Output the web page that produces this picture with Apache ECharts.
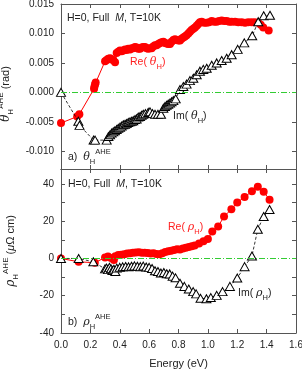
<!DOCTYPE html>
<html><head><meta charset="utf-8">
<script src="https://cdn.jsdelivr.net/npm/echarts@6/dist/echarts.min.js"></script>
<style>html,body{margin:0;padding:0;background:#fff}#c{width:302px;height:371px}</style>
</head><body><div id="c"></div>
<script>
// ---- Data ----
const xTicks = [0, 0.2, 0.4, 0.6, 0.8, 1.0, 1.2, 1.4, 1.6];
const thetaTickLabels = [-0.010, -0.005, 0.000, 0.005, 0.010, 0.015];
const rhoTicks = [-40, -30, -20, -10, 0, 10, 20, 30, 40];
const rhoTickLabels = [-40, -20, 0, 20, 40];

const reThetaE = [0.00,0.11,0.125,0.225,0.228,0.232,0.236,0.30,0.311,0.322,0.334,0.345,0.356,0.368,0.379,0.39,0.402,0.413,0.424,0.436,0.447,0.458,0.470,0.481,0.492,0.504,0.515,0.526,0.538,0.549,0.560,0.572,0.583,0.594,0.606,0.617,0.628,0.640,0.651,0.663,0.674,0.685,0.697,0.708,0.719,0.730,0.742,0.753,0.765,0.776,0.787,0.799,0.810,0.821,0.833,0.844,0.855,0.867,0.878,0.889,0.901,0.912,0.924,0.935,0.946,0.958,0.975,0.992,1.009,1.026,1.043,1.060,1.077,1.094,1.111,1.128,1.145,1.162,1.185,1.207,1.230,1.253,1.275,1.298,1.320,1.343,1.360,1.377,1.414];
const reThetaV = [-0.0052,-0.0041,-0.0037,0.0006,0.0010,0.0014,0.0017,0.0053,0.0055,0.0057,0.0058,0.0056,0.0055,0.0051,0.0067,0.0069,0.0071,0.0070,0.0071,0.0073,0.0072,0.0074,0.0073,0.0075,0.0075,0.0077,0.0076,0.0074,0.0074,0.0076,0.0077,0.0077,0.0075,0.0074,0.0075,0.0075,0.0078,0.0080,0.0080,0.0082,0.0084,0.0085,0.0086,0.0084,0.0083,0.0082,0.0082,0.0086,0.0089,0.0090,0.0089,0.0088,0.0088,0.0091,0.0093,0.0095,0.0097,0.0100,0.0103,0.0106,0.0108,0.0110,0.0113,0.0116,0.0119,0.0120,0.0118,0.0118,0.0119,0.0121,0.0120,0.0120,0.0121,0.0122,0.0121,0.0121,0.0120,0.0120,0.0120,0.0119,0.0119,0.0118,0.0119,0.0119,0.0119,0.0118,0.0115,0.0110,0.0105];

const imThetaE = [0.00,0.118,0.126,0.222,0.232,0.311,0.323,0.334,0.345,0.356,0.367,0.379,0.39,0.402,0.413,0.424,0.436,0.447,0.458,0.470,0.481,0.492,0.504,0.515,0.526,0.538,0.549,0.560,0.575,0.594,0.606,0.623,0.640,0.660,0.681,0.697,0.708,0.719,0.730,0.742,0.753,0.765,0.781,0.810,0.833,0.855,0.878,0.901,0.924,0.946,0.969,0.992,1.026,1.060,1.094,1.128,1.162,1.203,1.248,1.302,1.343,1.380,1.423];
const imThetaV = [0.0000,-0.0049,-0.0056,-0.0081,-0.0081,-0.0081,-0.0075,-0.0072,-0.0069,-0.0067,-0.0065,-0.0063,-0.0061,-0.0059,-0.0057,-0.0055,-0.0054,-0.0053,-0.0051,-0.0050,-0.0049,-0.0048,-0.0046,-0.0045,-0.0042,-0.0041,-0.0039,-0.0037,-0.0036,-0.0034,-0.0033,-0.0036,-0.0037,-0.0037,-0.0037,-0.0027,-0.0024,-0.0022,-0.0020,-0.0018,-0.0016,-0.0014,-0.0011,0.0005,0.0010,0.0014,0.0020,0.0024,0.0030,0.0036,0.0039,0.0041,0.0046,0.0050,0.0054,0.0058,0.0064,0.0073,0.0084,0.0096,0.0120,0.0130,0.0131];

const reRhoE = [0.00,0.12,0.23,0.30,0.32,0.34,0.36,0.37,0.39,0.41,0.43,0.45,0.47,0.49,0.51,0.53,0.55,0.57,0.59,0.61,0.63,0.65,0.67,0.69,0.71,0.73,0.75,0.77,0.79,0.81,0.83,0.85,0.87,0.89,0.91,0.94,0.97,1.00,1.03,1.07,1.11,1.16,1.20,1.25,1.30,1.34,1.38,1.42];
const reRhoV = [0,-1.8,-2.3,0.5,1.0,0.3,-0.8,1.2,1.8,2.0,2.3,2.6,2.8,3.0,3.2,3.3,3.0,3.1,2.9,2.6,2.8,2.4,2.2,2.8,3.4,3.8,4.2,4.5,5.0,4.8,5.4,5.8,6.2,6.6,7.0,8.0,9.2,10.5,14.4,17.2,22.5,26.4,30.0,33.0,36.0,38.5,35.8,31.5];

const imRhoE = [0.00,0.12,0.22,0.30,0.31,0.32,0.33,0.34,0.35,0.36,0.37,0.38,0.40,0.42,0.44,0.46,0.48,0.50,0.52,0.54,0.56,0.58,0.60,0.62,0.64,0.66,0.68,0.70,0.72,0.74,0.76,0.78,0.81,0.84,0.87,0.90,0.92,0.95,0.99,1.02,1.06,1.10,1.15,1.20,1.25,1.30,1.34,1.38,1.42];
const imRhoV = [0,0,-1.8,-5.6,-5.2,-6.0,-4.8,-5.5,-6.5,-5.8,-7.0,-5.2,-4.8,-4.5,-4.3,-4.5,-4.2,-4.0,-4.2,-4.4,-4.1,-4.6,-4.8,-5.4,-6.6,-7.0,-7.8,-7.5,-8.2,-8.3,-9.5,-10.4,-13.3,-15.0,-16.4,-17.8,-19.0,-21.4,-21.6,-21.0,-19.8,-17.8,-15.0,-10.5,-4.4,1.3,15.7,22.5,26.3];

// ---- Chart ----
const FONT = 'Liberation Sans, Arial, sans-serif';
const AX = '#555';
const pairs = (e, v) => e.map((x, i) => [x, v[i]]);

const zeroLine = {
  silent: true, symbol: ['none', 'none'], label: {show: false},
  lineStyle: {color: '#33cc33', type: [6, 2, 1, 2], width: 1},
  data: [{yAxis: 0}]
};

function xAx(gi, pos, labels) {
  return {
    type: 'value', gridIndex: gi, position: pos, min: 0, max: 1.6, interval: 0.2,
    axisLine: {show: true, onZero: false, lineStyle: {color: AX, width: 1}},
    axisTick: {show: true, inside: true, length: 4, lineStyle: {color: AX}},
    axisLabel: {show: labels, color: '#222', fontSize: 10, fontFamily: FONT, margin: 7,
      formatter: v => v.toFixed(1)},
    splitLine: {show: false}
  };
}
function yAx(gi, pos, min, max, ticks, labels, fmt, name) {
  const o = {
    type: 'value', gridIndex: gi, position: pos, min: min, max: max,
    axisLine: {show: true, onZero: false, lineStyle: {color: AX, width: 1}},
    axisTick: {show: true, inside: true, length: 4, lineStyle: {color: AX}, customValues: ticks},
    axisLabel: {show: pos === 'left', color: '#222', fontSize: 10, fontFamily: FONT, margin: 7,
      customValues: labels, formatter: fmt},
    splitLine: {show: false}
  };
  if (name) Object.assign(o, name);
  return o;
}
const nameRich = {
  t: {fontSize: 12, fontStyle: 'italic', fontFamily: 'DejaVu Serif, serif', color: '#222', lineHeight: 18},
  s: {fontSize: 8, fontFamily: FONT, color: '#222', verticalAlign: 'bottom', lineHeight: 6},
  p: {fontSize: 8, fontFamily: FONT, color: '#222', verticalAlign: 'top', lineHeight: 3},
  n: {fontSize: 11, fontFamily: FONT, color: '#222', lineHeight: 18},
  i: {fontSize: 11, fontStyle: 'italic', fontFamily: FONT, color: '#222', lineHeight: 18},
  w: {width: 15, fontSize: 11, lineHeight: 18}
};

const option = {
  animation: false,
  backgroundColor: '#fff',
  grid: [
    {left: 61, right: 6, top: 4, height: 165, containLabel: false, outerBoundsMode: 'none'},
    {left: 61, right: 6, top: 169, height: 164, containLabel: false, outerBoundsMode: 'none'}
  ],
  xAxis: [
    xAx(0, 'bottom', false), xAx(0, 'top', false),
    Object.assign(xAx(1, 'bottom', true), {name: 'Energy (eV)', nameLocation: 'middle', nameGap: 25,
      nameTextStyle: {fontSize: 11, fontFamily: FONT, color: '#222'}}),
    xAx(1, 'top', false)
  ],
  yAxis: [
    yAx(0, 'left', -0.013, 0.015, thetaTickLabels, thetaTickLabels, v => v.toFixed(3), {
      name: '{t|θ}{s|H}{p|AHE}{n| (rad)}{w|\u00a0}', nameLocation: 'middle', nameRotate: 90, nameGap: 41,
      nameTextStyle: {rich: nameRich}
    }),
    yAx(0, 'right', -0.013, 0.015, thetaTickLabels, thetaTickLabels, v => v.toFixed(3)),
    yAx(1, 'left', -40, 48, rhoTicks, rhoTickLabels, v => String(v), {
      name: '{t|ρ}{s|H}{p|AHE}{n| (}{i|μ}{n|Ω cm)}', nameLocation: 'middle', nameRotate: 90, nameGap: 41,
      nameTextStyle: {rich: nameRich}
    }),
    yAx(1, 'right', -40, 48, rhoTicks, rhoTickLabels, v => String(v))
  ],
  series: [
    {type: 'line', xAxisIndex: 0, yAxisIndex: 0, data: pairs(reThetaE, reThetaV),
      symbol: 'circle', symbolSize: 8, itemStyle: {color: '#ff0000'},
      lineStyle: {color: '#ff0000', width: 1}, markLine: zeroLine, z: 2},
    {type: 'line', xAxisIndex: 0, yAxisIndex: 0, data: pairs(imThetaE, imThetaV),
      symbol: 'triangle', symbolSize: [9, 8], itemStyle: {color: '#fff', borderColor: '#000', borderWidth: 1},
      lineStyle: {color: '#000', width: 0.8, type: [3, 2]}, z: 3},
    {type: 'line', xAxisIndex: 2, yAxisIndex: 2, data: pairs(reRhoE, reRhoV),
      symbol: 'circle', symbolSize: 8, itemStyle: {color: '#ff0000'},
      lineStyle: {color: '#ff0000', width: 1}, markLine: zeroLine, z: 2},
    {type: 'line', xAxisIndex: 2, yAxisIndex: 2, data: pairs(imRhoE, imRhoV),
      symbol: 'triangle', symbolSize: [9, 8], itemStyle: {color: '#fff', borderColor: '#000', borderWidth: 1},
      lineStyle: {color: '#000', width: 0.8, type: [3, 2]}, z: 3}
  ],
  graphic: (function () {
    const r = (color) => ({
      n: {fontSize: 10.5, fontFamily: FONT, fill: color, lineHeight: 18},
      i: {fontSize: 10.5, fontFamily: FONT, fontStyle: 'italic', fill: color, lineHeight: 18},
      g: {fontSize: 11, fontFamily: 'DejaVu Serif, serif', fontStyle: 'italic', fill: color, lineHeight: 18},
      s: {fontSize: 7.5, fontFamily: FONT, fill: color, verticalAlign: 'bottom', lineHeight: 5},
      p: {fontSize: 7.5, fontFamily: FONT, fill: color, verticalAlign: 'top', lineHeight: 3}
    });
    const T = (x, y, text, color) => ({type: 'text', x: x, y: y, z: 50,
      style: {text: text, rich: r(color), fill: color, verticalAlign: 'middle', align: 'left'}});
    return [
      T(67, 18, '{n|H=0, Full  }{i|M}{n|, T=10K}', '#222'),
      T(130, 62, '{n|Re( }{g|θ}{s|H}{n|)}', '#ff2020'),
      T(173, 116, '{n|Im( }{g|θ}{s|H}{n|)}', '#222'),
      T(68, 157, '{n|a)  }{g|θ}{s|H}{p|AHE}', '#222'),
      T(68, 184, '{n|H=0, Full  }{i|M}{n|, T=10K}', '#222'),
      T(168, 227, '{n|Re( }{g|ρ}{s|H}{n|)}', '#ff2020'),
      T(238, 293, '{n|Im( }{g|ρ}{s|H}{n|)}', '#222'),
      T(68, 322, '{n|b)  }{g|ρ}{s|H}{p|AHE}', '#222')
    ];
  })()
};
const chart = echarts.init(document.getElementById('c'), null, {renderer: 'canvas'});
chart.setOption(option);
</script></body></html>
